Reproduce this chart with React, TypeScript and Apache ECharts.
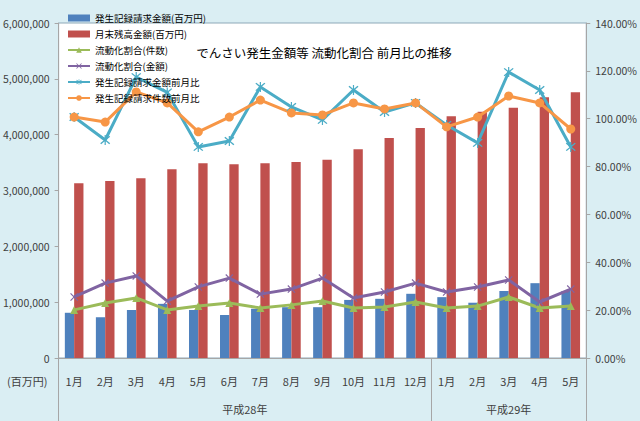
import React from 'react';
import * as echarts from 'echarts';

const months = ['1月', '2月', '3月', '4月', '5月', '6月', '7月', '8月', '9月', '10月', '11月', '12月', '1月', '2月', '3月', '4月', '5月'];
const issuedAmount = [810000, 730000, 860000, 970000, 860000, 770000, 880000, 910000, 910000, 1040000, 1060000, 1150000, 1090000, 990000, 1200000, 1340000, 1200000];
const balance = [3130000, 3170000, 3220000, 3380000, 3490000, 3470000, 3490000, 3510000, 3550000, 3740000, 3940000, 4120000, 4330000, 4410000, 4480000, 4670000, 4760000];
const countRatio = [20.1, 23.0, 25.1, 20.1, 21.7, 23.0, 20.9, 22.2, 23.8, 20.9, 21.3, 23.4, 20.9, 21.7, 25.5, 20.9, 21.7];
const amountRatio = [25.5, 31.3, 34.3, 23.8, 29.7, 33.4, 26.7, 28.8, 33.4, 25.1, 27.6, 31.3, 27.6, 29.7, 32.6, 23.4, 28.8];
const amountMoM = [100.7, 91.1, 117.4, 111.0, 88.2, 90.7, 113.3, 104.9, 99.5, 112.0, 102.8, 106.6, 97.4, 89.9, 119.5, 112.0, 88.2];
const countMoM = [100.7, 98.6, 111.2, 106.6, 94.5, 100.7, 107.8, 102.4, 101.6, 106.6, 104.1, 106.6, 96.6, 100.7, 109.5, 106.6, 95.7];

// group labels sit on a 0..17 value axis (position in month units)
const groups = [
  { name: '平成28年', at: 6 },
  { name: '平成29年', at: 14.5 },
];
const groupStarts = [0, 12];

const FONT = "'Noto Sans CJK JP', 'Noto Sans', sans-serif";
const AXIS_GRAY = '#a6a6a6';
const LABEL = '#404040';

const crossPath = 'path://M1,0L5,4L9,0L10,1L6,5L10,9L9,10L5,6L1,10L0,9L4,5L0,1Z';
const starPath = 'path://M1,0L5,4L9,0L10,1L6,5L10,9L9,10L5,6L1,10L0,9L4,5L0,1Z M4.4,-1H5.6V11H4.4Z';

const App: React.FC = () => {
  const chartRef = React.useRef<HTMLDivElement>(null);

  React.useEffect(() => {
    if (!chartRef.current) return;
    const chart = echarts.init(chartRef.current, null, { renderer: 'svg' });

    const lineSeries = (name: string, data: number[], color: string, symbol: string, size: number) => ({
      name,
      type: 'line',
      yAxisIndex: 1,
      data,
      symbol,
      symbolSize: size,
      lineStyle: { color, width: 3 },
      itemStyle: { color },
    });

    chart.setOption({
      animation: false,
      backgroundColor: '#daeef3',
      textStyle: { fontFamily: FONT },
      title: {
        text: 'でんさい発生金額等 流動化割合 前月比の推移',
        left: 319,
        top: 41,
        textAlign: 'center',
        textStyle: { fontSize: 12.5, fontWeight: 'normal', color: '#000', fontFamily: FONT },
      },
      legend: {
        orient: 'vertical',
        left: 62,
        top: 7,
        itemGap: 4,
        itemWidth: 22,
        itemHeight: 7,
        textStyle: { fontSize: 9.5, lineHeight: 12, color: '#000', fontFamily: FONT },
        data: [
          { name: '発生記録請求金額(百万円)', icon: 'rect' },
          { name: '月末残高金額(百万円)', icon: 'rect' },
          '流動化割合(件数)',
          '流動化割合(金額)',
          '発生記録請求金額前月比',
          '発生記録請求件数前月比',
        ],
      },
      grid: {
        left: 57,
        right: 49,
        top: 23,
        bottom: 63,
        show: true,
        backgroundColor: '#ffffff',
        borderColor: '#8ea9b8',
        borderWidth: 1,
      },
      xAxis: [
        {
          type: 'category',
          position: 'bottom',
          data: months,
          axisLine: { lineStyle: { color: AXIS_GRAY } },
          axisTick: { length: 35, lineStyle: { color: AXIS_GRAY } },
          axisLabel: { color: LABEL, fontSize: 11, margin: 17, interval: 0 },
        },
        {
          type: 'category',
          position: 'bottom',
          offset: 0,
          data: months,
          axisLine: { show: true, lineStyle: { color: 'rgba(0,0,0,0)' } },
          axisLabel: { show: false },
          axisTick: {
            show: true,
            length: 63,
            interval: (i: number) => groupStarts.indexOf(i) >= 0,
            lineStyle: { color: AXIS_GRAY },
          },
        },
        {
          type: 'value',
          position: 'bottom',
          offset: 0,
          min: 0,
          max: 17,
          interval: 0.5,
          axisLine: { show: false },
          axisTick: { show: false },
          splitLine: { show: false },
          axisLabel: {
            color: LABEL,
            fontSize: 11,
            margin: 45,
            formatter: (v: number) => {
              const g = groups.find((x) => x.at === v);
              return g ? g.name : '';
            },
          },
        },
      ],
      yAxis: [
        {
          type: 'value',
          min: 0,
          max: 6000000,
          interval: 1000000,
          splitLine: { show: false },
          axisLine: { show: true, lineStyle: { color: AXIS_GRAY } },
          axisTick: { show: true, length: 4, lineStyle: { color: AXIS_GRAY } },
          axisLabel: {
            color: LABEL,
            fontSize: 10.5,
            margin: 9,
            formatter: (v: number) => v.toLocaleString('en-US'),
          },
        },
        {
          type: 'value',
          min: 0,
          max: 140,
          interval: 20,
          splitLine: { show: false },
          axisLine: { show: true, lineStyle: { color: AXIS_GRAY } },
          axisTick: { show: true, length: 4, lineStyle: { color: AXIS_GRAY } },
          axisLabel: {
            color: LABEL,
            fontSize: 10.5,
            margin: 9,
            formatter: (v: number) => v.toFixed(2) + '%',
          },
        },
      ],
      graphic: [
        {
          type: 'text',
          left: 7,
          top: 375,
          style: { text: '(百万円)', fontSize: 11, fill: LABEL, fontFamily: FONT },
        },
      ],
      series: [
        {
          name: '発生記録請求金額(百万円)',
          type: 'bar',
          data: issuedAmount,
          barWidth: '30%',
          barGap: '0%',
          itemStyle: { color: '#4f81bd' },
        },
        {
          name: '月末残高金額(百万円)',
          type: 'bar',
          data: balance,
          barWidth: '30%',
          barGap: '0%',
          itemStyle: { color: '#c0504d' },
        },
        lineSeries('流動化割合(件数)', countRatio, '#9bbb59', 'triangle', 8),
        lineSeries('流動化割合(金額)', amountRatio, '#8064a2', crossPath, 8),
        lineSeries('発生記録請求金額前月比', amountMoM, '#4bacc6', starPath, 10),
        lineSeries('発生記録請求件数前月比', countMoM, '#f79646', 'circle', 9),
      ],
    });

    return () => {
      chart.dispose();
    };
  }, []);

  return (
    <div
      ref={chartRef}
      style={{ position: 'fixed', left: 0, top: 0, width: '640px', height: '421px' }}
    />
  );
};

export default App;
